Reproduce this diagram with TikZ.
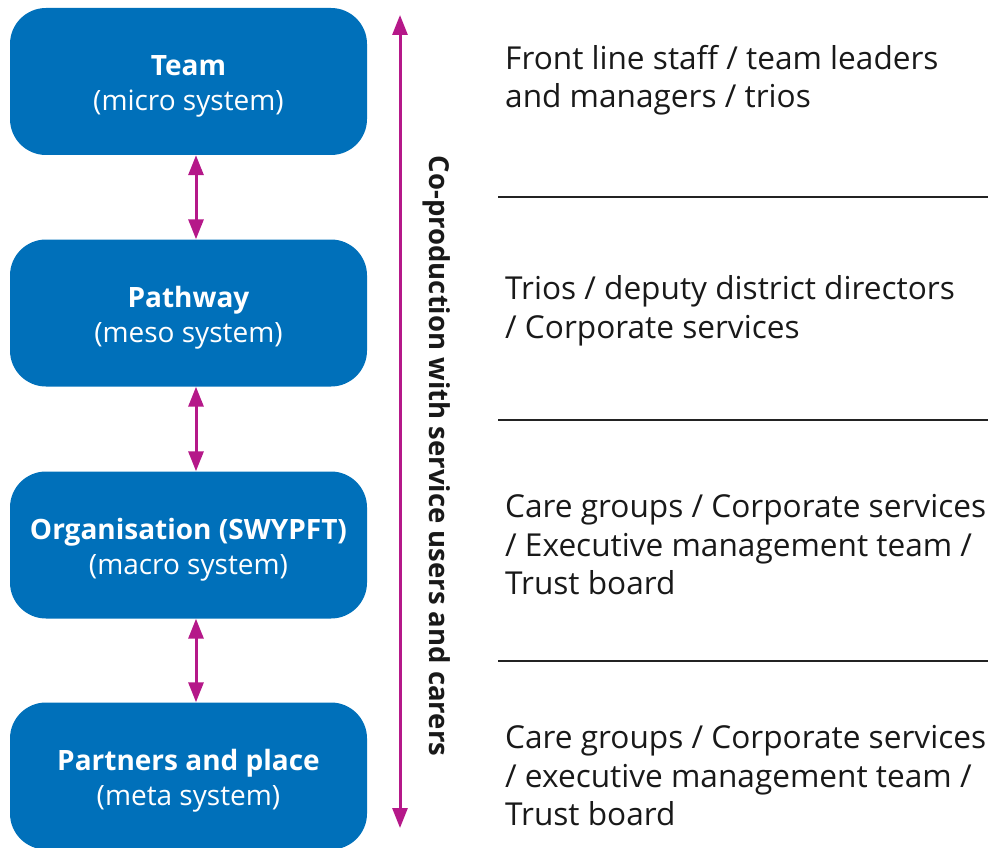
\documentclass[tikz,border=0pt]{standalone}
\usepackage{fontspec}
\setmainfont{Open Sans}
\usetikzlibrary{arrows.meta}
\definecolor{boxblue}{RGB}{0,112,186}
\definecolor{mag}{RGB}{181,24,137}
\definecolor{rule}{RGB}{35,35,35}
\begin{document}
\begin{tikzpicture}[x=1pt,y=-1pt,
  sysbox/.style={fill=boxblue, rounded corners=36pt, minimum width=357pt, minimum height=147pt, inner sep=0pt},
  boxtext/.style={text=white, align=center, inner sep=0pt, font=\fontsize{28}{35}\selectfont},
  link/.style={mag, line width=3pt, {Triangle[length=20pt,width=15pt]}-{Triangle[length=20pt,width=15pt]}},
  sep/.style={rule, line width=2.6pt},
  desc/.style={anchor=west, align=left, inner sep=0pt, font=\fontsize{31.6}{38.5}\selectfont, text=black!90}
]
\useasboundingbox (0,0) rectangle (991,848);
\node[sysbox] (team) at (188.5,81.5) {};
\node[sysbox] (path) at (188.5,313) {};
\node[sysbox] (org) at (188.5,545) {};
\node[sysbox] (part) at (188.5,776) {};
\node[boxtext] (teamt) at ([yshift=-5pt]team.center) {\textbf{Team}\\(micro system)};
\node[boxtext] (patht) at ([yshift=-5pt]path.center) {\textbf{Pathway}\\(meso system)};
\node[boxtext] (orgt) at ([yshift=-5pt]org.center) {\textbf{Organisation (SWYPFT)}\\(macro system)};
\node[boxtext] (partt) at ([yshift=-5pt]part.center) {\textbf{Partners and place}\\(meta system)};

\draw[link] ([xshift=7.5pt]team.south) -- ([xshift=7.5pt]path.north);
\draw[link] ([xshift=7.5pt]path.south) -- ([xshift=7.5pt]org.north);
\draw[link] ([xshift=7.5pt]org.south) -- ([xshift=7.5pt]part.north);

\coordinate (ctop) at (400,15);
\coordinate (cbot) at (400,828);
\draw[link] (ctop) -- (cbot);
\node[rotate=-90, font=\bfseries\fontsize{27.5}{30}\selectfont, text=black!90] (cop) at (437,456) {Co-production with service users and carers};

\coordinate (l1a) at (498,197); \coordinate (l1b) at (988,197);
\coordinate (l2a) at (498,420); \coordinate (l2b) at (988,420);
\coordinate (l3a) at (498,661); \coordinate (l3b) at (988,661);
\draw[sep] (l1a) -- (l1b);
\draw[sep] (l2a) -- (l2b);
\draw[sep] (l3a) -- (l3b);

\node[desc] (d1) at (505,80) {Front line staff / team leaders\\and managers / trios};
\node[desc] (d2) at (505,311) {Trios / deputy district directors\\/ Corporate services};
\node[desc] (d3) at (505,545) {Care groups / Corporate services\\/ Executive management team /\\Trust board};
\node[desc] (d4) at (505,776) {Care groups / Corporate services\\/ executive management team /\\Trust board};
\end{tikzpicture}
\end{document}
